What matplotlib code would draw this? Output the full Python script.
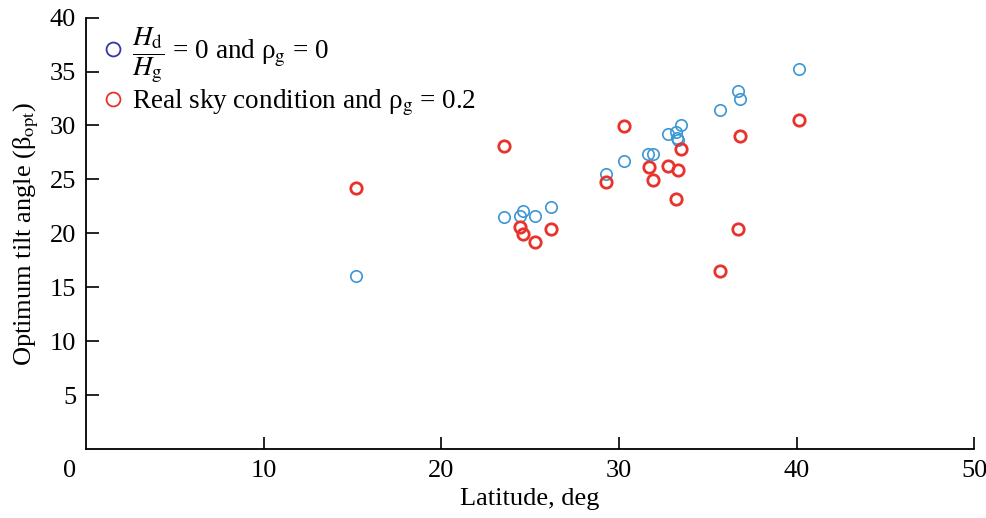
import matplotlib.pyplot as plt
from matplotlib.lines import Line2D

plt.rcParams['font.family'] = ['Liberation Serif', 'DejaVu Serif']
plt.rcParams['mathtext.fontset'] = 'stix'

# latitude (deg) and optimum tilt angle, Hd/Hg = 0 and rho_g = 0
lat_clear = [15.18, 23.52, 24.41, 24.63, 25.27, 26.17, 29.30, 30.29, 31.66, 31.92,
             32.77, 33.24, 33.26, 33.33, 33.50, 35.72, 36.71, 36.81, 40.12]
tilt_clear = [16.02, 21.49, 21.59, 22.08, 21.61, 22.48, 25.51, 26.74, 27.37, 27.37,
              29.19, 29.38, 28.88, 28.64, 30.08, 31.45, 33.24, 32.47, 35.22]

# real sky condition and rho_g = 0.2
lat_real = [15.18, 23.52, 24.41, 24.62, 25.27, 26.17, 29.30, 30.29, 31.69,
            31.94, 32.77, 33.24, 33.33, 33.50, 35.68, 36.71, 36.81, 40.12]
tilt_real = [24.18, 28.11, 20.62, 19.94, 19.20, 20.41, 24.80, 29.94, 26.13,
             24.95, 26.28, 23.16, 25.85, 27.80, 16.51, 20.41, 29.04, 30.52]

xticks = [10, 20, 30, 40, 50]
yticks = [5, 10, 15, 20, 25, 30, 35, 40]

BLUE = '#3a97d4'
RED = '#e8322b'

fig = plt.figure(figsize=(9.87, 5.18), dpi=100)
ax = fig.add_axes([0.087, 0.133, 0.9, 0.833])

ax.plot(lat_clear, tilt_clear, 'o', mfc='none', mec=BLUE, ms=8.2, mew=1.2)
ax.plot(lat_real, tilt_real, 'o', mfc='none', mec=RED, ms=8.2, mew=2.0)

ax.set_xlim(0, 50)
ax.set_ylim(0, 40)
ax.set_xticks(xticks)
ax.set_yticks(yticks)
ax.tick_params(direction='in', length=9, width=1.2, labelsize=19, pad=7)
ax.tick_params(axis='x', pad=8)
# the origin label sits a little left of the axis corner
ax.annotate('0', (0, 0), xycoords='data', xytext=(-16, -11), textcoords='offset pixels',
            ha='center', va='top', fontsize=19)

for s in ['top', 'right']:
    ax.spines[s].set_visible(False)
for s in ['left', 'bottom']:
    ax.spines[s].set_linewidth(1.3)

ax.set_xlabel('Latitude, deg', fontsize=19, labelpad=4)
ax.set_ylabel('Optimum tilt angle (β$_\\mathrm{opt}$)', fontsize=19, labelpad=6)

handles = [
    Line2D([], [], ls='none', marker='o', mfc='none', mec='#3535a8', ms=10, mew=1.3),
    Line2D([], [], ls='none', marker='o', mfc='none', mec=RED, ms=10, mew=1.3),
]
labels = [
    r'$\dfrac{H_\mathrm{d}}{H_\mathrm{g}}$ = 0 and ρ$_\mathrm{g}$ = 0',
    'Real sky condition and ρ$_\\mathrm{g}$ = 0.2',
]
ax.legend(handles, labels, loc='upper left', bbox_to_anchor=(0.0, 1.02), frameon=False,
          fontsize=19.5, handlelength=0.8, handletextpad=0.3, labelspacing=0.12,
          borderaxespad=0.2)

fig.savefig('out.png', dpi=100)
